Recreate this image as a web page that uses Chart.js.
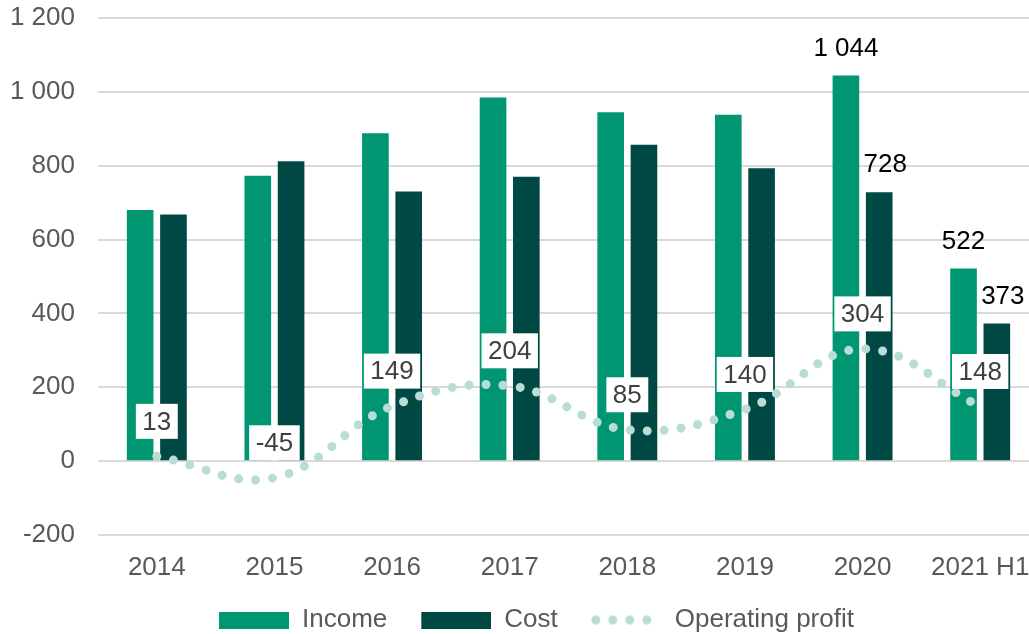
<!DOCTYPE html>
<html>
<head>
<meta charset="utf-8">
<title>Income, cost and operating profit</title>
<script src="https://cdn.jsdelivr.net/npm/chart.js@4.4.0/dist/chart.umd.min.js"></script>
<style>
  html, body { margin: 0; padding: 0; background: #fff; overflow: hidden; }
  /* the original export crops the plot area a few pixels past the right edge */
  #wrap { width: 1039px; height: 634px; }
</style>
</head>
<body>
<div id="wrap"><canvas id="chart"></canvas></div>
<script>
const years = ["2014", "2015", "2016", "2017", "2018", "2019", "2020", "2021 H1"];
const income = [680, 773, 888, 985, 945, 938, 1044, 522];
const cost = [668, 812, 730, 770, 857, 793, 728, 373];
const operatingProfit = [13, -45, 149, 204, 85, 140, 304, 148];
// only the last two periods carry bar value labels
const labelledBars = [6, 7];

const incomeColor = "#009672";
const costColor = "#004844";
const profitColor = "#b9ddd4";
const font = "'Liberation Sans', Arial, sans-serif";

// space as thousands separator, like "1 044"
function fmt(v) {
  return String(v).replace(/\B(?=(\d{3})+(?!\d))/g, " ");
}

// small canvases used as legend swatches (blank left part = gap between items)
function swatch(color, dots) {
  const c = document.createElement("canvas");
  c.width = 94;
  c.height = 17;
  const g = c.getContext("2d");
  g.fillStyle = color;
  if (dots) {
    for (let k = 0; k < 4; k++) {
      g.beginPath();
      g.arc(28 + k * 17, 8.5, 4.5, 0, Math.PI * 2);
      g.fill();
    }
  } else {
    g.fillRect(24, 0, 70, 17);
  }
  return c;
}
const swatches = [swatch(incomeColor), swatch(costColor), swatch(profitColor, true)];

// value labels: plain text over the 2020 / H1 bars, white boxes for operating profit
const valueLabels = {
  id: "valueLabels",
  afterDatasetsDraw(chart) {
    const ctx = chart.ctx;
    ctx.save();
    ctx.font = "26px " + font;
    ctx.textAlign = "center";
    ctx.textBaseline = "middle";

    [0, 1].forEach(di => {
      const meta = chart.getDatasetMeta(di);
      const values = chart.data.datasets[di].data;
      labelledBars.forEach(i => {
        const bar = meta.data[i];
        ctx.fillStyle = "#000";
        ctx.fillText(fmt(values[i]), bar.x + (di === 1 ? 6 : 0), bar.y - 27);
      });
    });

    const line = chart.getDatasetMeta(2);
    line.data.forEach((pt, i) => {
      const txt = fmt(operatingProfit[i]);
      const w = ctx.measureText(txt).width + 13;
      const h = 35;
      const cy = pt.y - 35;
      ctx.fillStyle = "#fff";
      ctx.fillRect(pt.x - w / 2, cy - h / 2, w, h);
      ctx.fillStyle = "#404040";
      ctx.fillText(txt, pt.x, cy + 1);
    });
    ctx.restore();
  }
};

const ctx = document.getElementById("chart").getContext("2d");
new Chart(ctx, {
  data: {
    labels: years,
    datasets: [
      {
        type: "bar",
        label: "Income",
        data: income,
        backgroundColor: incomeColor,
        barPercentage: 0.8,
        categoryPercentage: 0.566,
        order: 1
      },
      {
        type: "bar",
        label: "Cost",
        data: cost,
        backgroundColor: costColor,
        barPercentage: 0.8,
        categoryPercentage: 0.566,
        order: 1
      },
      {
        type: "line",
        label: "Operating profit",
        data: operatingProfit,
        borderColor: profitColor,
        backgroundColor: profitColor,
        borderWidth: 9,
        borderDash: [0, 17],
        borderCapStyle: "round",
        pointRadius: 0,
        tension: 0.4,
        fill: false,
        order: 0
      }
    ]
  },
  options: {
    responsive: true,
    maintainAspectRatio: false,
    animation: false,
    layout: { padding: { left: 10, right: 0, top: 18, bottom: -9 } },
    plugins: {
      tooltip: { enabled: false },
      legend: {
        position: "bottom",
        labels: {
          usePointStyle: true,
          pointStyleWidth: 94,
          boxHeight: 17,
          padding: 10,
          color: "#595959",
          font: { family: font, size: 26 },
          sort: (a, b) => a.datasetIndex - b.datasetIndex,
          generateLabels(chart) {
            const items = Chart.defaults.plugins.legend.labels.generateLabels(chart);
            items.forEach(it => { it.pointStyle = swatches[it.datasetIndex]; });
            return items;
          }
        }
      }
    },
    scales: {
      x: {
        grid: { display: false, drawTicks: false },
        border: { display: false },
        ticks: { color: "#595959", font: { family: font, size: 26 }, padding: 17 },
        afterFit(axis) {
          axis.height = 62;
          axis.paddingLeft = 0;
          axis.paddingRight = 0;
        }
      },
      y: {
        min: -200,
        max: 1200,
        grid: { color: "#d9d9d9", lineWidth: 2, drawTicks: false },
        border: { display: false },
        ticks: {
          stepSize: 200,
          padding: 23,
          color: "#595959",
          font: { family: font, size: 26 },
          callback: v => fmt(v)
        },
        afterFit(axis) {
          axis.width = 88;
          axis.paddingTop = 0;
          axis.paddingBottom = 0;
        }
      }
    }
  },
  plugins: [valueLabels]
});
</script>
</body>
</html>
